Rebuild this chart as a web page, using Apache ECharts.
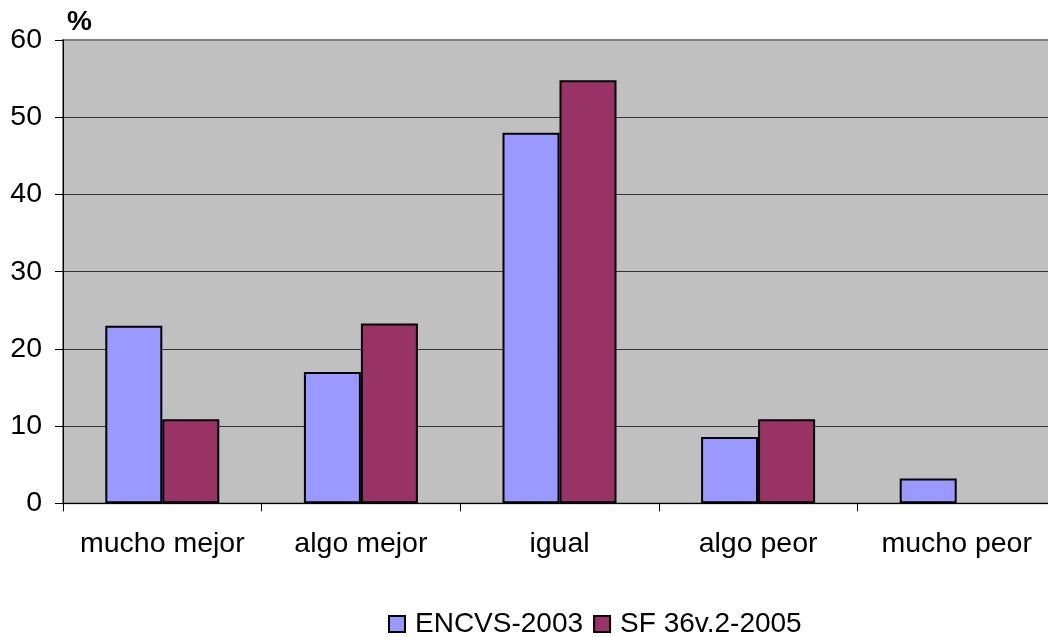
<!DOCTYPE html>
<html>
<head>
<meta charset="utf-8">
<script src="https://cdn.jsdelivr.net/npm/echarts@6/dist/echarts.min.js"></script>
<style>
html,body{margin:0;padding:0;background:#fff;overflow:hidden;}
#c{width:1056px;height:637px;}
</style>
</head>
<body>
<div id="c"></div>
<script>
var categories = ['mucho mejor', 'algo mejor', 'igual', 'algo peor', 'mucho peor'];
var encvs2003 = [23, 17, 48, 8.6, 3.2];
var sf36v2_2005 = [10.9, 23.3, 54.8, 10.9, '-'];
var seriesNames = ['ENCVS-2003', 'SF 36v.2-2005'];
var yTicks = [0, 10, 20, 30, 40, 50, 60];

var FONT = '"Liberation Sans", Arial, sans-serif';
var FS = 28.5;
var chart = echarts.init(document.getElementById('c'), null, {renderer: 'canvas'});
chart.setOption({
  animation: false,
  backgroundColor: '#ffffff',
  title: {
    text: '%',
    left: 62,
    top: 3,
    textStyle: {fontFamily: FONT, fontSize: 28, fontWeight: 'bold', color: '#000'}
  },
  legend: {
    left: 383,
    top: 605,
    itemWidth: 16,
    itemHeight: 16,
    itemGap: 10,
    icon: 'rect',
    textStyle: {fontFamily: FONT, fontSize: 28, color: '#000', padding: [0, 0, 0, 5]},
    data: seriesNames
  },
  grid: {
    left: 63,
    top: 40,
    right: 0,
    bottom: 133.7,
    show: true,
    backgroundColor: '#C0C0C0',
    borderColor: '#808080',
    borderWidth: 2
  },
  xAxis: {
    type: 'category',
    data: categories,
    axisLine: {show: true, lineStyle: {color: '#000', width: 1}},
    axisTick: {show: true, interval: 0, length: 8, lineStyle: {color: '#000'}},
    axisLabel: {interval: 0, fontFamily: FONT, fontSize: FS, color: '#000', margin: 26},
    splitLine: {show: false}
  },
  yAxis: {
    type: 'value',
    min: yTicks[0],
    max: yTicks[yTicks.length - 1],
    interval: 10,
    axisLine: {show: true, lineStyle: {color: '#000', width: 1}},
    axisTick: {show: true, length: 8, lineStyle: {color: '#000'}},
    axisLabel: {fontFamily: FONT, fontSize: FS, color: '#000', margin: 21},
    splitLine: {show: true, lineStyle: {color: ['#333', '#333', '#333', '#333', '#333', '#333', '#808080'], width: 1}}
  },
  series: [
    {
      name: seriesNames[0],
      type: 'bar',
      data: encvs2003,
      barWidth: 57,
      barGap: '0%',
      itemStyle: {color: '#9999FF', borderColor: '#000', borderWidth: 2}
    },
    {
      name: seriesNames[1],
      type: 'bar',
      data: sf36v2_2005,
      barWidth: 57,
      barGap: '0%',
      itemStyle: {color: '#993366', borderColor: '#000', borderWidth: 2}
    }
  ]
});
</script>
</body>
</html>
